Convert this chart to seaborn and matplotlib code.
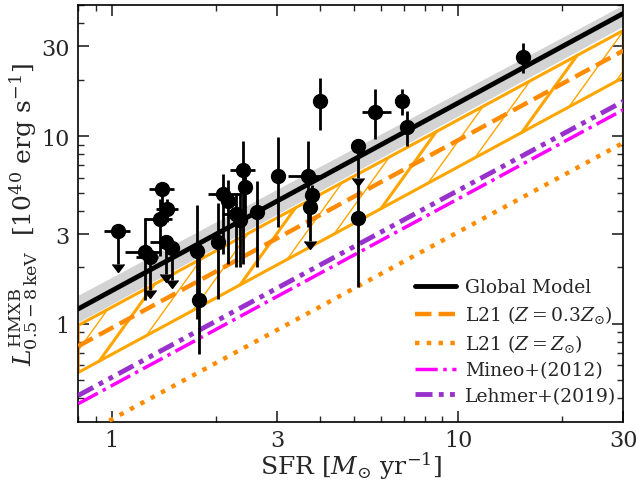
import numpy as np
import matplotlib
matplotlib.use("Agg")
import matplotlib.pyplot as plt
import seaborn as sns
from matplotlib.lines import Line2D
from matplotlib.ticker import FixedLocator, FixedFormatter, NullFormatter, LogLocator

# galaxies: SFR [Msun/yr] and L_HMXB [1e40 erg/s]
sfr = [1.04, 1.25, 1.29, 1.40, 1.38, 1.445, 1.43, 1.49, 1.757, 1.78,
       2.03, 2.10, 2.17, 2.29, 2.35, 2.39, 2.43, 2.63, 3.01, 3.69,
       3.79, 3.74, 3.99, 5.14, 5.13, 5.75, 6.88, 7.12, 15.4]
sfr_low = [0.952, 1.09, 1.175, 1.28, 1.236, 1.34, 1.29, 1.49, 1.757, 1.78,
           2.03, 1.89, 2.17, 2.08, 2.35, 2.20, 2.43, 2.63, 3.01, 3.22,
           3.79, 3.74, 3.99, 5.14, 5.13, 5.27, 6.88, 7.12, 15.4]
sfr_high = [1.13, 1.39, 1.36, 1.51, 1.49, 1.55, 1.50, 1.49, 1.757, 1.78,
            2.03, 2.36, 2.17, 2.42, 2.35, 2.60, 2.43, 2.63, 3.01, 4.14,
            3.79, 3.74, 3.99, 5.14, 5.13, 6.40, 6.88, 7.12, 15.4]
lum = [3.13, 2.40, 2.26, 5.25, 3.61, 4.08, 2.72, 2.54, 2.44, 1.34,
       2.72, 4.90, 4.48, 3.84, 3.57, 6.57, 5.35, 3.92, 6.13, 6.13,
       4.85, 4.20, 15.3, 8.90, 3.68, 13.4, 15.4, 11.2, 26.4]
lum_low = [2.08, 1.34, 1.51, 3.70, 2.30, 3.50, 1.85, 1.71, 1.06, 0.69,
           1.36, 2.36, 2.08, 2.00, 2.00, 2.09, 3.80, 2.00, 3.26, 3.26,
           4.30, 2.77, 10.8, 6.00, 1.57, 9.60, 12.95, 8.85, 21.6]
lum_high = [3.13, 3.68, 2.26, 5.60, 4.60, 4.60, 2.72, 2.54, 4.27, 2.35,
            4.42, 6.25, 5.80, 5.00, 5.00, 9.46, 6.40, 5.77, 9.85, 9.40,
            5.50, 4.20, 20.4, 8.90, 5.88, 17.9, 17.8, 13.6, 31.3]
upper_limit = [True, False, True, False, False, False, True, True, False, False,
               False, False, False, False, False, False, False, False, False, False,
               False, True, False, True, False, False, False, False, False]

# model relations, read at the two axis edges (SFR = 0.8 and 30)
sfr_edges = [0.8, 30.0]
global_model = [1.20, 45.0]
global_low = [1.02, 38.5]
global_high = [1.42, 50.0]
l21_low_z = [0.76, 28.5]
l21_band_low = [0.55, 20.5]
l21_band_high = [0.98, 36.5]
l21_solar = [0.248, 9.2]
mineo = [0.375, 13.8]
lehmer = [0.415, 15.3]

sns.set_theme(style="ticks")
plt.rcParams["font.family"] = ["DejaVu Serif"]
plt.rcParams["mathtext.fontset"] = "dejavuserif"

fig = plt.figure(figsize=(6.36, 4.85), dpi=100)
ax = fig.add_axes([0.123, 0.128, 0.857, 0.86])
ax.set_xscale("log")
ax.set_yscale("log")

# global model with its uncertainty band
ax.fill_between(sfr_edges, global_low, global_high, color="lightgray", lw=0, zorder=1)
sns.lineplot(x=sfr_edges, y=global_model, ax=ax, color="black", lw=3.5, zorder=4)

# L21 low-metallicity band, outlined and hatched with steep diagonals
ax.fill_between(sfr_edges, l21_band_low, l21_band_high, facecolor="none",
                edgecolor="orange", lw=2.2, zorder=2)


def power_law(vals):
    b = np.log10(vals[1] / vals[0]) / np.log10(sfr_edges[1] / sfr_edges[0])
    return np.log10(vals[0]) - b * np.log10(sfr_edges[0]), b


a_lo, b_lo = power_law(l21_band_low)
a_hi, b_hi = power_law(l21_band_high)
hatch_slope = 2.57      # steepness of the hatch lines in log-log
hatch_step = 0.1356     # dex between hatch lines along the lower edge
for k in range(-4, 14):
    ls0 = np.log10(0.92) + k * hatch_step
    ly0 = a_lo + b_lo * ls0
    ls1 = (a_hi - ly0 + hatch_slope * ls0) / (hatch_slope - b_hi)
    ly1 = a_hi + b_hi * ls1
    thick = (k % 3 == 0)
    ax.plot(10 ** np.array([ls0, ls1]), 10 ** np.array([ly0, ly1]),
            color="orange", lw=2.2 if thick else 1.0, zorder=2)

sns.lineplot(x=sfr_edges, y=l21_low_z, ax=ax, color="darkorange", lw=3.2,
             linestyle="--", zorder=3)
sns.lineplot(x=sfr_edges, y=l21_solar, ax=ax, color="darkorange", lw=3.2,
             linestyle=":", zorder=3)
sns.lineplot(x=sfr_edges, y=mineo, ax=ax, color="magenta", lw=2.5,
             linestyle="-.", zorder=3)
lehmer_style = (0, (3.5, 1.3, 1, 1.3, 1, 1.3))
sns.lineplot(x=sfr_edges, y=lehmer, ax=ax, color="darkorchid", lw=3.5,
             linestyle=lehmer_style, zorder=3)

# galaxies
x = np.array(sfr)
y = np.array(lum)
xlo = x - np.array(sfr_low)
xhi = np.array(sfr_high) - x
ylo = y - np.array(lum_low)
yhi = np.array(lum_high) - y
lim = np.array(upper_limit)
det = ~lim
ax.errorbar(x[det], y[det], xerr=[xlo[det], xhi[det]], yerr=[ylo[det], yhi[det]],
            fmt="o", color="black", ms=10, elinewidth=2, capsize=0, zorder=5)
ax.errorbar(x[lim], y[lim], xerr=[xlo[lim], xhi[lim]],
            fmt="o", color="black", ms=10, elinewidth=2, capsize=0, zorder=5)
ax.errorbar(x[lim], y[lim], yerr=ylo[lim], uplims=True, fmt="none",
            color="black", elinewidth=2, capsize=4, zorder=5)

ax.set_xlim(0.8, 30)
ax.set_ylim(0.3, 50)
for axis in (ax.xaxis, ax.yaxis):
    axis.set_major_locator(FixedLocator([1, 3, 10, 30]))
    axis.set_major_formatter(FixedFormatter(["1", "3", "10", "30"]))
    axis.set_minor_locator(LogLocator(base=10, subs=(1.0, 2, 4, 5, 6, 7, 8, 9), numticks=20))
    axis.set_minor_formatter(NullFormatter())
ax.tick_params(which="both", direction="in", top=True, right=True, labelsize=16)
ax.tick_params(axis="x", pad=5)
ax.tick_params(axis="y", pad=6)
ax.tick_params(which="major", length=8, width=1.2)
ax.tick_params(which="minor", length=4.5, width=1.0)
for s in ax.spines.values():
    s.set_linewidth(1.2)
    s.set_color("black")

ax.set_xlabel(r"SFR [$M_{\odot}$ yr$^{-1}$]", fontsize=18, labelpad=-1)
ax.set_ylabel(r"$L^{\rm HMXB}_{0.5-8\,{\rm keV}}$  [$10^{40}$ erg s$^{-1}$]",
              fontsize=18, labelpad=1)

handles = [
    Line2D([], [], color="black", lw=3.5),
    Line2D([], [], color="darkorange", lw=3.2, linestyle="--"),
    Line2D([], [], color="darkorange", lw=3.2, linestyle=":"),
    Line2D([], [], color="magenta", lw=2.5, linestyle="-."),
    Line2D([], [], color="darkorchid", lw=3.5, linestyle=lehmer_style),
]
labels = ["Global Model", r"L21 ($Z = 0.3Z_{\odot}$)", r"L21 ($Z = Z_{\odot}$)",
          "Mineo+(2012)", "Lehmer+(2019)"]
ax.legend(handles, labels, loc="lower right", bbox_to_anchor=(1.012, 0.01),
          frameon=False, fontsize=13.5, handlelength=2.2, handletextpad=0.5,
          labelspacing=0.38, borderaxespad=0.3)

fig.savefig("out.png", dpi=100)
